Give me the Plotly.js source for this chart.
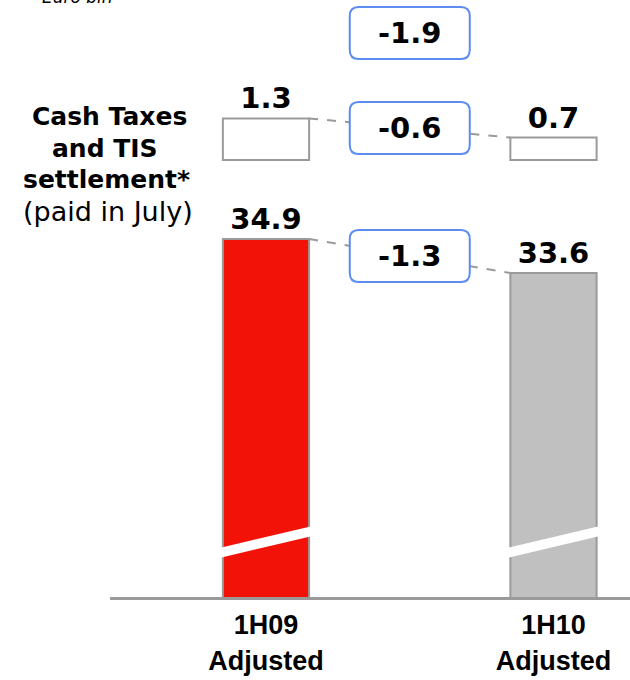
<!DOCTYPE html>
<html><head><meta charset="utf-8">
<script src="https://cdn.plot.ly/plotly-3.0.1.min.js"></script>
<style>html,body{margin:0;padding:0;background:#fff}</style>
</head><body><div id="chart" style="width:630px;height:680px"></div>
<script>
// ---- data ----
const categories = ['1H09<br>Adjusted', '1H10<br>Adjusted'];
const adjustedValues = [34.9, 33.6];
const taxValues = [1.3, 0.7];
const deltaAdjusted = -1.3;
const deltaTaxes = -0.6;
const deltaTotal = -1.9;
const unitLabel = 'Euro bln';
const sideLabels = ['Cash Taxes', 'and TIS', 'settlement*', '(paid in July)'];

// ---- layout helpers ----
const H = 680, B = 83, PLOT_H = H - B;
const px = p => (PLOT_H - p) / PLOT_H;          // pixel row -> paper y
const L = 110, PLOT_W = 630 - L;
const pxX = p => (p - L) / PLOT_W;                // pixel col -> paper x
const barW = 0.3;
const xIdx = categories.map((_, i) => i);
const numFont = {family: 'DejaVu Sans', size: 29, weight: 'bold', color: '#000'};
const sideFont = {family: 'DejaVu Sans', size: 25, weight: 'bold', color: '#000'};
const fmt = v => v.toFixed(1);

const traces = [
  {type: 'bar', x: xIdx, y: adjustedValues, width: barW, yaxis: 'y',
   marker: {color: ['#F21208', '#C0C0C0'], line: {color: '#9A9A9A', width: 2}},
   text: adjustedValues.map(fmt), textposition: 'outside', cliponaxis: false,
   constraintext: 'none', textfont: numFont, hoverinfo: 'skip'},
  {type: 'bar', x: xIdx, y: taxValues, width: barW, yaxis: 'y2',
   marker: {color: '#FFFFFF', line: {color: '#9A9A9A', width: 2}},
   text: taxValues.map(fmt), textposition: 'outside', cliponaxis: false,
   constraintext: 'none', textfont: numFont, hoverinfo: 'skip'},
  {type: 'scatter', mode: 'lines', x: [xIdx[0] + barW / 2, xIdx[1] - barW / 2], y: adjustedValues,
   yaxis: 'y', line: {color: '#9A9A9A', width: 2, dash: 'dash'}, hoverinfo: 'skip', cliponaxis: false},
  {type: 'scatter', mode: 'lines', x: [xIdx[0] + barW / 2, xIdx[1] - barW / 2], y: taxValues,
   yaxis: 'y2', line: {color: '#9A9A9A', width: 2, dash: 'dash'}, hoverinfo: 'skip', cliponaxis: false}
];

const boxPath = 'M -51,-26 L 51,-26 Q 60,-26 60,-17 L 60,17 Q 60,26 51,26 L -51,26 Q -60,26 -60,17 L -60,-17 Q -60,-26 -51,-26 Z';
function roundBox(x, y, yref) {
  return {type: 'path', xref: 'x', yref: yref, xsizemode: 'pixel', ysizemode: 'pixel',
          xanchor: x, yanchor: y, path: boxPath, fillcolor: '#FFFFFF',
          line: {color: '#5B8CF0', width: 2}, layer: 'above'};
}
function stripe(i) {
  const l = i - 0.162, r = i + 0.162;
  return {type: 'path', xref: 'x', yref: 'paper',
          path: `M ${l},${px(558)} L ${l},${px(548)} L ${r},${px(526)} L ${r},${px(536)} Z`,
          fillcolor: '#FFFFFF', line: {width: 0}, layer: 'above'};
}
const midX = (xIdx[0] + xIdx[1]) / 2;
const midAdj = (adjustedValues[0] + adjustedValues[1]) / 2;
const midTax = (taxValues[0] + taxValues[1]) / 2;
const totalY = px(33);

const shapes = [
  stripe(0), stripe(1),
  roundBox(midX, midAdj, 'y'),
  roundBox(midX, midTax, 'y2'),
  roundBox(midX, totalY, 'paper')
];

const ann = (o) => Object.assign({showarrow: false, xanchor: 'center', yanchor: 'middle'}, o);
const annotations = [
  ann({x: midX, y: midAdj, xref: 'x', yref: 'y', text: fmt(deltaAdjusted), font: numFont}),
  ann({x: midX, y: midTax, xref: 'x', yref: 'y2', text: fmt(deltaTaxes), font: numFont}),
  ann({x: midX, y: totalY, xref: 'x', yref: 'paper', text: fmt(deltaTotal), font: numFont}),
  ann({x: pxX(109), y: px(116), xref: 'paper', yref: 'paper', text: sideLabels[0], font: sideFont}),
  ann({x: pxX(105), y: px(148), xref: 'paper', yref: 'paper', text: sideLabels[1], font: sideFont}),
  ann({x: pxX(106), y: px(180), xref: 'paper', yref: 'paper', text: sideLabels[2], font: sideFont}),
  ann({x: pxX(108), y: px(212), xref: 'paper', yref: 'paper', text: sideLabels[3],
       font: {family: 'DejaVu Sans', size: 27, color: '#000'}}),
  ann({x: pxX(77), y: 1, xref: 'paper', yref: 'paper', yanchor: 'bottom', yshift: -9, text: unitLabel,
       font: {family: 'DejaVu Sans', size: 17, style: 'italic', color: '#000'}})
];

const layout = {
  width: 630, height: 680,
  margin: {l: L, r: 0, t: 0, b: B},
  paper_bgcolor: '#FFFFFF', plot_bgcolor: '#FFFFFF',
  showlegend: false, barmode: 'overlay',
  xaxis: {range: [-0.5426, 1.2661], tickvals: xIdx, ticktext: categories,
          showline: true, linecolor: '#9A9A9A', linewidth: 3, ticks: '',
          showgrid: false, zeroline: false, ticklabelstandoff: 2,
          tickfont: {family: 'Liberation Sans', size: 27, weight: 'bold', color: '#000'}},
  yaxis: {range: [21.21, 44.04], showgrid: false, zeroline: false, showticklabels: false, showline: false},
  yaxis2: {range: [-13.656, 5.0], overlaying: 'y', showgrid: false, zeroline: false,
           showticklabels: false, showline: false},
  shapes: shapes,
  annotations: annotations
};

Plotly.newPlot('chart', traces, layout, {displayModeBar: false, staticPlot: true});
</script>
</body></html>
